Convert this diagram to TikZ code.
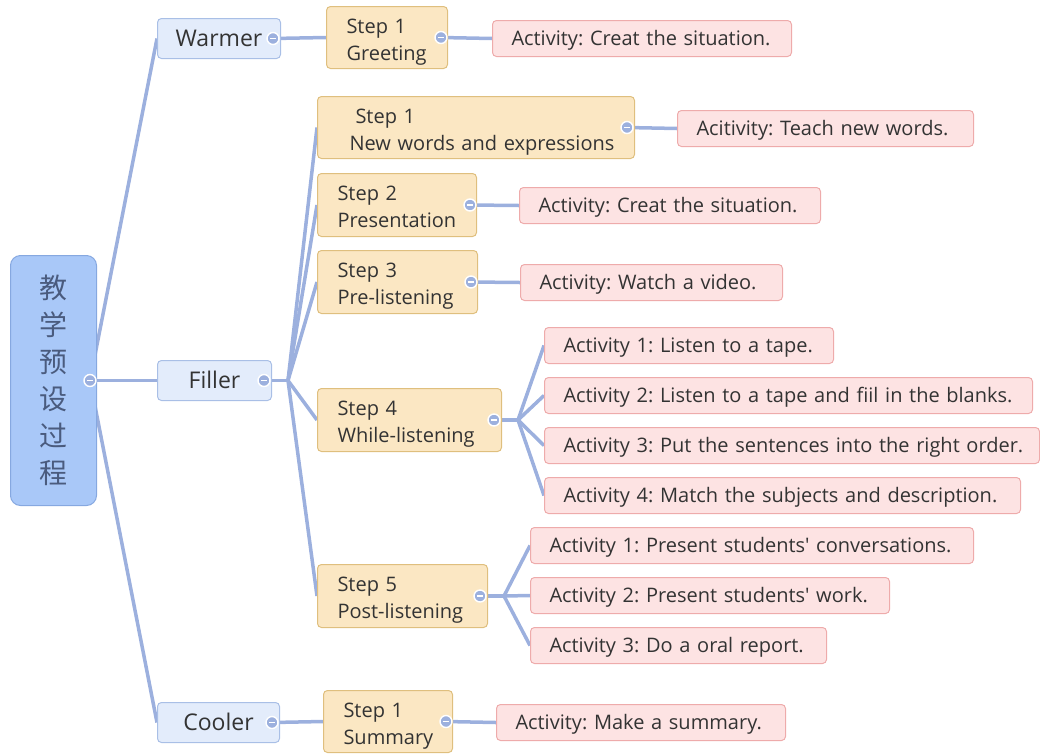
\documentclass[tikz,border=0pt]{standalone}
\usepackage{fontspec}
\setmainfont{Open Sans}
\newfontfamily\cjk{Noto Sans CJK SC}
\usetikzlibrary{calc,backgrounds}
\definecolor{rootfill}{HTML}{A9C8F8}
\definecolor{rootborder}{HTML}{86A8E0}
\definecolor{lvfill}{HTML}{E3ECFB}
\definecolor{lvborder}{HTML}{A9BFE6}
\definecolor{stfill}{HTML}{FBE7C3}
\definecolor{stborder}{HTML}{DFBF7E}
\definecolor{acfill}{HTML}{FDE3E3}
\definecolor{acborder}{HTML}{EEABAB}
\definecolor{linec}{HTML}{9CB0DE}
\definecolor{txt}{HTML}{333333}
\definecolor{roottxt}{HTML}{4A5B7E}
\frenchspacing
\newcommand{\topstrut}{\rule{0pt}{24pt}}
\newcommand{\botstrut}{\rule[-6pt]{0pt}{6pt}}
\begin{document}
\begin{tikzpicture}[x=1pt,y=-1pt,
  box/.style={anchor=north west, rounded corners=4pt, line width=1pt, inner ysep=0pt, text=txt, align=left},
  rootbox/.style={box, draw=rootborder, fill=rootfill, rounded corners=10pt, align=center, inner xsep=0pt, text=roottxt, font=\cjk\fontsize{28}{37}\selectfont},
  lvbox/.style={box, draw=lvborder, fill=lvfill, minimum height=40pt, inner xsep=18pt, align=center, text height=18pt, text depth=2pt, font=\fontsize{23}{26}\selectfont},
  stepbox/.style={box, draw=stborder, fill=stfill, minimum height=62pt, inner xsep=20pt, font=\fontsize{20}{27}\selectfont},
  actbox/.style={box, draw=acborder, fill=acfill, minimum height=36pt, inner xsep=19pt, text height=16pt, text depth=2pt, font=\fontsize{20}{22}\selectfont},
  btn/.style={circle, fill=linec, draw=white, line width=1.4pt, minimum size=12pt, inner sep=0pt,
    path picture={\draw[white, line width=1.5pt] ($(path picture bounding box.center)+(-3.2pt,0)$) -- ($(path picture bounding box.center)+(3.2pt,0)$);}},
  conn/.style={draw=linec, line width=3.5pt}
]
\useasboundingbox (0,0) rectangle (1040,753);
% root
\node[rootbox, minimum width=86pt, minimum height=250pt, text width=86pt] (root) at (10,255) {教\\学\\预\\设\\过\\程};
% level 1
\node[lvbox, text width=87pt] (warmer) at (157,18) {\mbox{Warmer}};
\node[lvbox, text width=78pt] (filler) at (157,360) {\mbox{Filler}};
\node[lvbox, text width=86pt] (cooler) at (157,702) {\mbox{Cooler}};
% steps
\node[stepbox, text width=81pt] (g1) at (326,6) {\mbox{\topstrut Step 1}\\\mbox{Greeting\botstrut}};
\node[stepbox, text width=277pt] (s1) at (317,96) {\mbox{\topstrut\hspace*{18pt}Step 1}\\\mbox{\hspace*{12pt}New words and expressions\botstrut}};
\node[stepbox, text width=119pt, minimum height=63pt] (s2) at (317,173) {\mbox{\topstrut Step 2}\\\mbox{Presentation\botstrut}};
\node[stepbox, text width=120pt, minimum height=63pt] (s3) at (317,250) {\mbox{\topstrut Step 3}\\\mbox{Pre-listening\botstrut}};
\node[stepbox, text width=144pt, minimum height=63pt] (s4) at (317,388) {\mbox{\topstrut Step 4}\\\mbox{While-listening\botstrut}};
\node[stepbox, text width=130pt, minimum height=63pt] (s5) at (317,564) {\mbox{\topstrut Step 5}\\\mbox{Post-listening\botstrut}};
\node[stepbox, text width=89pt] (c1) at (323,690) {\mbox{\topstrut Step 1}\\\mbox{Summary\botstrut}};
% activities
\node[actbox, text width=261pt] (aw) at (492,20) {\mbox{Activity: Creat the situation.}};
\node[actbox, text width=258pt] (a1) at (677,110) {\mbox{Acitivity: Teach new words.}};
\node[actbox, text width=263pt] (a2) at (519,187) {\mbox{Activity: Creat the situation.}};
\node[actbox, text width=224pt] (a3) at (520,264) {\mbox{Activity: Watch a video.}};
\node[actbox, text width=251pt] (a41) at (544,327) {\mbox{Activity 1: Listen to a tape.}};
\node[actbox, text width=450pt] (a42) at (544,377) {\mbox{Activity 2: Listen to a tape and fiil in the blanks.}};
\node[actbox, text width=457pt] (a43) at (544,427) {\mbox{Activity 3: Put the sentences into the right order.}};
\node[actbox, text width=438pt] (a44) at (544,477) {\mbox{Activity 4: Match the subjects and description.}};
\node[actbox, text width=405pt] (a51) at (530,527) {\mbox{Activity 1: Present students\textquotesingle\ conversations.}};
\node[actbox, text width=321pt] (a52) at (530,577) {\mbox{Activity 2: Present students\textquotesingle\ work.}};
\node[actbox, text width=258pt] (a53) at (530,627) {\mbox{Activity 3: Do a oral report.}};
\node[actbox, text width=251pt] (ac) at (496,704) {\mbox{Activity: Make a summary.}};
% buttons
\node[btn] (root-b) at ($(root.east)+(-7,0)$) {};
\node[btn] (warmer-b) at ($(warmer.east)+(-8,0)$) {};
\node[btn] (filler-b) at ($(filler.east)+(-8,0)$) {};
\node[btn] (cooler-b) at ($(cooler.east)+(-8,0)$) {};
\node[btn] (g1-b) at ($(g1.east)+(-7,0)$) {};
\node[btn] (s1-b) at ($(s1.east)+(-8,0)$) {};
\node[btn] (s2-b) at ($(s2.east)+(-7,0)$) {};
\node[btn] (s3-b) at ($(s3.east)+(-7,0)$) {};
\node[btn] (s4-b) at ($(s4.east)+(-8,0)$) {};
\node[btn] (s5-b) at ($(s5.east)+(-8,0)$) {};
\node[btn] (c1-b) at ($(c1.east)+(-7,0)$) {};
\coordinate (ff) at ($(filler.east)+(16,0)$);
\coordinate (f4) at ($(s4.east)+(16,0)$);
\coordinate (f5) at ($(s5.east)+(16,0)$);
\begin{pgfonlayer}{background}
\draw[conn] (root-b.center) -- (warmer.west);
\draw[conn] (root-b.center) -- (filler.west);
\draw[conn] (root-b.center) -- (cooler.west);
\draw[conn] (warmer-b) -- (g1.west);
\draw[conn] (g1-b) -- (aw.west);
\draw[conn] (filler-b) -- (ff);
\foreach \s in {s1,s2,s3,s4,s5} {\draw[conn] (ff) -- (\s.west);}
\draw[conn] (s1-b) -- (a1.west);
\draw[conn] (s2-b) -- (a2.west);
\draw[conn] (s3-b) -- (a3.west);
\draw[conn] (s4-b) -- (f4);
\foreach \a in {a41,a42,a43,a44} {\draw[conn] (f4) -- (\a.west);}
\draw[conn] (s5-b) -- (f5);
\foreach \a in {a51,a52,a53} {\draw[conn] (f5) -- (\a.west);}
\draw[conn] (cooler-b) -- (c1.west);
\draw[conn] (c1-b) -- (ac.west);
\end{pgfonlayer}
\end{tikzpicture}
\end{document}
